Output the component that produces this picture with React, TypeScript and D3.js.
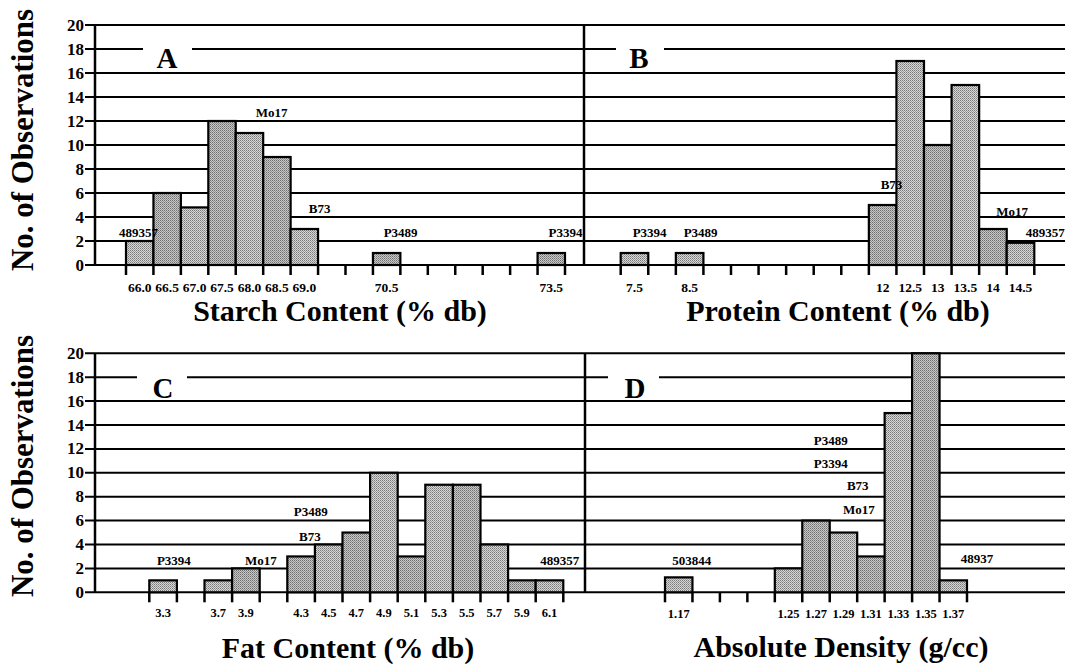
import React from "react";
import * as d3 from "d3";

// ---------- DATA ----------
const starchBins = ["66.0","66.5","67.0","67.5","68.0","68.5","69.0","69.5","70.0","70.5","71.0","71.5","72.0","72.5","73.0","73.5"];
const starchCounts = [2,6,4.8,12,11,9,3,0,0,1,0,0,0,0,0,1];
const starchTickLabels = ["66.0","66.5","67.0","67.5","68.0","68.5","69.0","70.5","73.5"];
const starchNotes = [
  { text: "489357", bin: -0.04, y: 2.75 },
  { text: "Mo17", bin: 4.81, y: 12.67 },
  { text: "B73", bin: 6.56, y: 4.67 },
  { text: "P3489", bin: 9.51, y: 2.75 },
  { text: "P3394", bin: 15.52, y: 2.75 },
];

const proteinBins = ["7.5","8.0","8.5","9.0","9.5","10.0","10.5","11.0","11.5","12","12.5","13","13.5","14","14.5"];
const proteinCounts = [1,0,1,0,0,0,0,0,0,5,17,10,15,3,1.85];
const proteinTickLabels = ["7.5","8.5","12","12.5","13","13.5","14","14.5"];
const proteinNotes = [
  { text: "P3394", bin: 0.55, y: 2.75 },
  { text: "P3489", bin: 2.4, y: 2.75 },
  { text: "B73", bin: 9.32, y: 6.67 },
  { text: "Mo17", bin: 13.7, y: 4.5 },
  { text: "489357", bin: 14.9, y: 2.75 },
];

const fatBins = ["3.3","3.5","3.7","3.9","4.1","4.3","4.5","4.7","4.9","5.1","5.3","5.5","5.7","5.9","6.1"];
const fatCounts = [1,0,1,2,0,3,4,5,10,3,9,9,4,1,1];
const fatTickLabels = ["3.3","3.7","3.9","4.3","4.5","4.7","4.9","5.1","5.3","5.5","5.7","5.9","6.1"];
const fatNotes = [
  { text: "P3394", bin: 0.39, y: 2.62 },
  { text: "Mo17", bin: 3.54, y: 2.62 },
  { text: "P3489", bin: 5.35, y: 6.8 },
  { text: "B73", bin: 5.32, y: 4.71 },
  { text: "489357", bin: 14.37, y: 2.62 },
];

const densityBins = ["1.17","1.19","1.21","1.23","1.25","1.27","1.29","1.31","1.33","1.35","1.37"];
const densityCounts = [1.25,0,0,0,2,6,5,3,15,20,1];
const densityTickLabels = ["1.17","1.25","1.27","1.29","1.31","1.33","1.35","1.37"];
const densityNotes = [
  { text: "503844", bin: 0.47, y: 2.62 },
  { text: "P3489", bin: 5.54, y: 12.74 },
  { text: "P3394", bin: 5.54, y: 10.74 },
  { text: "B73", bin: 6.52, y: 8.9 },
  { text: "Mo17", bin: 6.56, y: 6.89 },
  { text: "48937", bin: 10.86, y: 2.79 },
];

const yTickValues = [0,2,4,6,8,10,12,14,16,18,20];
const yTitle = "No. of Observations";

// ---------- LAYOUT ----------
const W = 1065, H = 665;
const FONT = "'Liberation Serif', 'Times New Roman', serif";
const AXIS_X = 95;
const RIGHT = 1065;

type Note = { text: string; bin: number; y: number };

function Histogram(props: {
  bins: string[]; counts: number[]; labels: string[]; notes: Note[];
  x0: number; x1: number; y: d3.ScaleLinear<number, number>;
  tickFont: number; labelY: number;
}) {
  const { bins, counts, labels, notes, x0, x1, y, tickFont, labelY } = props;
  const x = d3.scaleLinear().domain([0, bins.length]).range([x0, x1]);
  const base = y(0);
  const edges = d3.range(0, bins.length + 1);
  return (
    <g>
      {bins.map((b, i) =>
        counts[i] > 0 ? (
          <rect key={"bar" + b} x={x(i)} y={y(counts[i])} width={x(i + 1) - x(i)} height={base - y(counts[i])}
            fill={i % 2 === 0 ? "url(#stippleA)" : "url(#stippleB)"} stroke="#000" strokeWidth={2.2} />
        ) : null
      )}
      {edges.map((e) => (
        <line key={"t" + e} x1={x(e)} x2={x(e)} y1={base} y2={base + 10} stroke="#000" strokeWidth={2.5} />
      ))}
      {bins.map((b, i) =>
        labels.includes(b) ? (
          <text key={"l" + b} x={(x(i) + x(i + 1)) / 2} y={labelY} textAnchor="middle" fontFamily={FONT}
            fontWeight="bold" fontSize={tickFont}>{b}</text>
        ) : null
      )}
      {notes.map((n, i) => (
        <text key={"n" + i} x={x(n.bin + 0.5)} y={y(n.y)} textAnchor="middle" dominantBaseline="central"
          fontFamily={FONT} fontWeight="bold" fontSize={13}>{n.text}</text>
      ))}
    </g>
  );
}

function Frame(props: { y: d3.ScaleLinear<number, number>; divider: number; letters: { t: string; cx: number; gap: [number, number] }[]; letterY: number }) {
  const { y, divider, letters, letterY } = props;
  return (
    <g>
      {yTickValues.map((v) => (
        <g key={v}>
          <line x1={AXIS_X - 10} x2={RIGHT} y1={y(v)} y2={y(v)} stroke="#000" strokeWidth={2} />
          <text x={AXIS_X - 11} y={y(v)} textAnchor="end" dominantBaseline="central" fontFamily={FONT}
            fontWeight="bold" fontSize={17}>{v}</text>
        </g>
      ))}
      <line x1={AXIS_X} x2={AXIS_X} y1={y(20)} y2={y(0)} stroke="#000" strokeWidth={2.5} />
      <line x1={divider} x2={divider} y1={y(20)} y2={y(0)} stroke="#000" strokeWidth={2.5} />
      {letters.map((l) => (
        <g key={l.t}>
          <rect x={l.gap[0]} y={y(18) - 3} width={l.gap[1] - l.gap[0]} height={6} fill="#fff" />
          <text x={l.cx} y={letterY} textAnchor="middle" fontFamily={FONT} fontWeight="bold" fontSize={29}>{l.t}</text>
        </g>
      ))}
    </g>
  );
}

export default function App() {
  const yTop = d3.scaleLinear().domain([0, 20]).range([265, 25]);
  const yBot = d3.scaleLinear().domain([0, 20]).range([592.3, 353.3]);
  return (
    <svg width={W} height={H} style={{ position: "absolute", left: 0, top: 0, background: "#fff" }}>
      <defs>
        <pattern id="stippleA" width={2} height={2} patternUnits="userSpaceOnUse">
          <rect width={2} height={2} fill="#d6d6d6" />
          <rect width={1} height={1} fill="#7a7a7a" />
          <rect x={1} y={1} width={1} height={1} fill="#9a9a9a" />
        </pattern>
        <pattern id="stippleB" width={2} height={2} patternUnits="userSpaceOnUse">
          <rect width={2} height={2} fill="#c8c8c8" />
          <rect width={1} height={1} fill="#6e6e6e" />
          <rect x={1} y={1} width={1} height={1} fill="#909090" />
        </pattern>
      </defs>
      <rect width={W} height={H} fill="#fff" />

      <Frame y={yTop} divider={584} letterY={68}
        letters={[{ t: "A", cx: 167, gap: [143, 192] }, { t: "B", cx: 639, gap: [616, 664] }]} />
      <Frame y={yBot} divider={585} letterY={398}
        letters={[{ t: "C", cx: 163, gap: [137, 187] }, { t: "D", cx: 635, gap: [608, 659] }]} />

      <Histogram bins={starchBins} counts={starchCounts} labels={starchTickLabels} notes={starchNotes}
        x0={126} x1={565} y={yTop} tickFont={13.5} labelY={292} />
      <Histogram bins={proteinBins} counts={proteinCounts} labels={proteinTickLabels} notes={proteinNotes}
        x0={620.7} x1={1034.3} y={yTop} tickFont={13.5} labelY={292} />
      <Histogram bins={fatBins} counts={fatCounts} labels={fatTickLabels} notes={fatNotes}
        x0={149.3} x1={563.3} y={yBot} tickFont={12.5} labelY={617} />
      <Histogram bins={densityBins} counts={densityCounts} labels={densityTickLabels} notes={densityNotes}
        x0={665} x1={967} y={yBot} tickFont={12.5} labelY={618} />

      {[140, 466].map((cy) => (
        <text key={cy} transform={`translate(33,${cy}) rotate(-90)`} textAnchor="middle" fontFamily={FONT}
          fontWeight="bold" fontSize={32} textLength={262} lengthAdjust="spacingAndGlyphs">{yTitle}</text>
      ))}

      <text x={340} y={321} textAnchor="middle" fontFamily={FONT} fontWeight="bold" fontSize={30}>Starch Content (% db)</text>
      <text x={838} y={321} textAnchor="middle" fontFamily={FONT} fontWeight="bold" fontSize={30}>Protein Content (% db)</text>
      <text x={348} y={658} textAnchor="middle" fontFamily={FONT} fontWeight="bold" fontSize={30}>Fat Content (% db)</text>
      <text x={841} y={657} textAnchor="middle" fontFamily={FONT} fontWeight="bold" fontSize={30}>Absolute Density (g/cc)</text>
    </svg>
  );
}
